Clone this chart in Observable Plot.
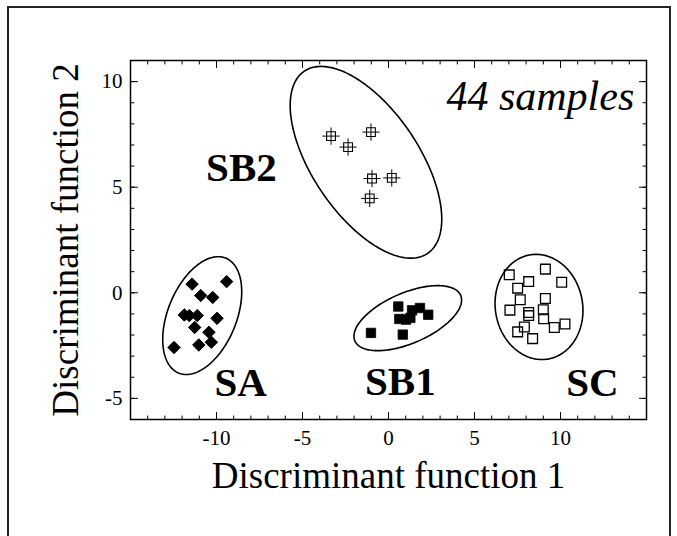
<!DOCTYPE html>
<html>
<head>
<meta charset="utf-8">
<script src="https://cdn.jsdelivr.net/npm/d3@7"></script>
<script src="https://cdn.jsdelivr.net/npm/@observablehq/plot@0.6"></script>
<style>
  body { margin: 0; background: #fff; }
  #wrap { position: relative; width: 677px; height: 536px; overflow: hidden; }
  #border { position: absolute; left: 7px; top: 6px; width: 664px; height: 600px; border: 2px solid #222; box-sizing: border-box; }
  #chart { position: absolute; left: 0; top: 0; }
</style>
</head>
<body>
<div id="wrap"><div id="border"></div><div id="chart"></div></div>
<script>
// ---- data ----
const saX = [-11.42, -9.41, -10.92, -10.22, -11.87, -11.58, -11.12, -9.97, -11.27, -10.44, -11.03, -10.30, -12.47];
const saY = [0.41, 0.53, -0.13, -0.22, -1.05, -1.08, -1.08, -1.21, -1.64, -1.87, -2.47, -2.34, -2.59];

const sb2X = [-3.34, -2.35, -1.02, -0.96, 0.19, -1.09];
const sb2Y = [7.42, 6.90, 7.61, 5.41, 5.44, 4.47];

const sb1X = [0.57, -1.02, 0.83, 0.63, 1.02, 1.27, 1.37, 1.83, 2.31];
const sb1Y = [-0.65, -1.90, -1.98, -1.24, -1.27, -1.19, -0.83, -0.72, -1.04];

const scX = [7.02, 9.12, 8.15, 10.07, 7.51, 7.66, 9.12, 7.06, 8.15, 8.15, 9.00, 9.02, 9.64, 10.26, 7.90, 7.51, 8.38];
const scY = [0.85, 1.12, 0.53, 0.50, 0.22, -0.33, -0.27, -0.82, -0.93, -1.08, -0.80, -1.23, -1.64, -1.48, -1.62, -1.85, -2.17];

// ellipses: center, vector to topmost point, horizontal half-chord through center
const ellipseNames = ["SA", "SB2", "SB1", "SC"];
const ellipseCx = [-10.83, -1.31, 1.12, 8.75];
const ellipseCy = [-1.08, 6.18, -1.20, -0.67];
const ellipseTopDx = [0.93, -2.61, 1.74, -0.17];
const ellipseTopDy = [2.79, 4.54, 1.54, 2.49];
const ellipseHalfChord = [2.10, 3.55, 2.60, 2.55];

// group labels
const groupNames = ["SA", "SB1", "SB2", "SC"];
const groupLabelX = [-8.6, 0.69, -8.55, 11.86];
const groupLabelY = [-4.9, -4.85, 5.30, -4.88];

const noteText = "44 samples";
const noteX = 14.29;
const noteY = 8.67;

const xTickLabels = [-10, -5, 0, 5, 10];
const yTickLabels = [-5, 0, 5, 10];
const xMajorTicks = [-15, -10, -5, 0, 5, 10, 15];
const yMajorTicks = [-5, 0, 5, 10];
const xMinorTicks = d3.range(-15, 16, 1);
const yMinorTicks = d3.range(-6, 12, 1);

const xTitle = "Discriminant function 1";
const yTitle = "Discriminant function 2";

// ---- build ----
const zip = (xs, ys) => xs.map((x, i) => ({x, y: ys[i]}));
const sa = zip(saX, saY), sb2 = zip(sb2X, sb2Y), sb1 = zip(sb1X, sb1Y), sc = zip(scX, scY);

const ellipsePts = [];
ellipseNames.forEach((g, k) => {
  for (let i = 0; i <= 200; i++) {
    const t = (i / 200) * 2 * Math.PI;
    ellipsePts.push({
      g,
      x: ellipseCx[k] + ellipseTopDx[k] * Math.cos(t) + ellipseHalfChord[k] * Math.sin(t),
      y: ellipseCy[k] + ellipseTopDy[k] * Math.cos(t)
    });
  }
});

const labels = groupNames.map((name, i) => ({name, x: groupLabelX[i], y: groupLabelY[i]}));

const tickLine = { draw(ctx, l) { ctx.moveTo(0, 0); ctx.lineTo(0, -l); } };
const serif = "'Liberation Serif', 'Times New Roman', Times, serif";
const fmt = d => String(d);

const tickMarks = (vals, len, axis) => axis === "x"
  ? [
      Plot.vector(vals, {x: d => d, frameAnchor: "bottom", length: len, rotate: 0, anchor: "start", shape: tickLine, stroke: "black", strokeWidth: 1}),
      Plot.vector(vals, {x: d => d, frameAnchor: "top", length: len, rotate: 180, anchor: "start", shape: tickLine, stroke: "black", strokeWidth: 1})
    ]
  : [
      Plot.vector(vals, {y: d => d, frameAnchor: "left", length: len, rotate: 90, anchor: "start", shape: tickLine, stroke: "black", strokeWidth: 1}),
      Plot.vector(vals, {y: d => d, frameAnchor: "right", length: len, rotate: -90, anchor: "start", shape: tickLine, stroke: "black", strokeWidth: 1})
    ];

const chart = Plot.plot({
  width: 677,
  height: 536,
  marginLeft: 130,
  marginRight: 31,
  marginTop: 60,
  marginBottom: 117,
  style: {fontFamily: serif, fontSize: "21px", color: "black", background: "transparent"},
  x: {domain: [-15, 15]},
  y: {domain: [-6, 11]},
  marks: [
    Plot.frame({stroke: "black", strokeWidth: 1.5}),
    ...tickMarks(xMinorTicks, 3.5, "x"),
    ...tickMarks(xMajorTicks, 7, "x"),
    ...tickMarks(yMinorTicks, 3.5, "y"),
    ...tickMarks(yMajorTicks, 7, "y"),
    Plot.axisX({ticks: xTickLabels, tickFormat: fmt, tickSize: 0, tickPadding: 11, label: null, fontSize: 21, fontFamily: serif}),
    Plot.axisY({ticks: yTickLabels, tickFormat: fmt, tickSize: 0, tickPadding: 8, label: null, fontSize: 21, fontFamily: serif}),
    Plot.line(ellipsePts, {x: "x", y: "y", z: "g", stroke: "black", strokeWidth: 1.6}),
    Plot.dot(sa, {x: "x", y: "y", symbol: "diamond2", fill: "black", stroke: "black", strokeWidth: 1, r: 5.6}),
    Plot.dot(sb1, {x: "x", y: "y", symbol: "square", fill: "black", stroke: "black", strokeWidth: 0.8, r: 5.3}),
    Plot.dot(sb2, {x: "x", y: "y", symbol: "square2", fill: "white", stroke: "black", strokeWidth: 1.1, r: 5.6}),
    Plot.dot(sb2, {x: "x", y: "y", symbol: "plus", stroke: "black", strokeWidth: 1.0, r: 5.6}),
    Plot.dot(sc, {x: "x", y: "y", symbol: "square2", fill: "none", stroke: "black", strokeWidth: 1.3, r: 6.2}),
    Plot.text(labels, {x: "x", y: "y", text: "name", fontSize: 41, fontWeight: "bold", fontFamily: serif, lineAnchor: "bottom", fill: "black"}),
    Plot.text([noteText], {x: () => noteX, y: () => noteY, text: d => d, fontSize: 42, fontStyle: "italic", fontFamily: serif, textAnchor: "end", lineAnchor: "bottom", fill: "black"}),
    Plot.text([xTitle], {text: d => d, frameAnchor: "bottom", textAnchor: "middle", dy: 68, lineAnchor: "bottom", fontSize: 37, fontFamily: serif, fill: "black"}),
    Plot.text([yTitle], {text: d => d, frameAnchor: "left", textAnchor: "middle", dx: -53, rotate: -90, lineAnchor: "bottom", fontSize: 37, fontFamily: serif, fill: "black"})
  ]
});
document.getElementById("chart").appendChild(chart);
</script>
</body>
</html>
